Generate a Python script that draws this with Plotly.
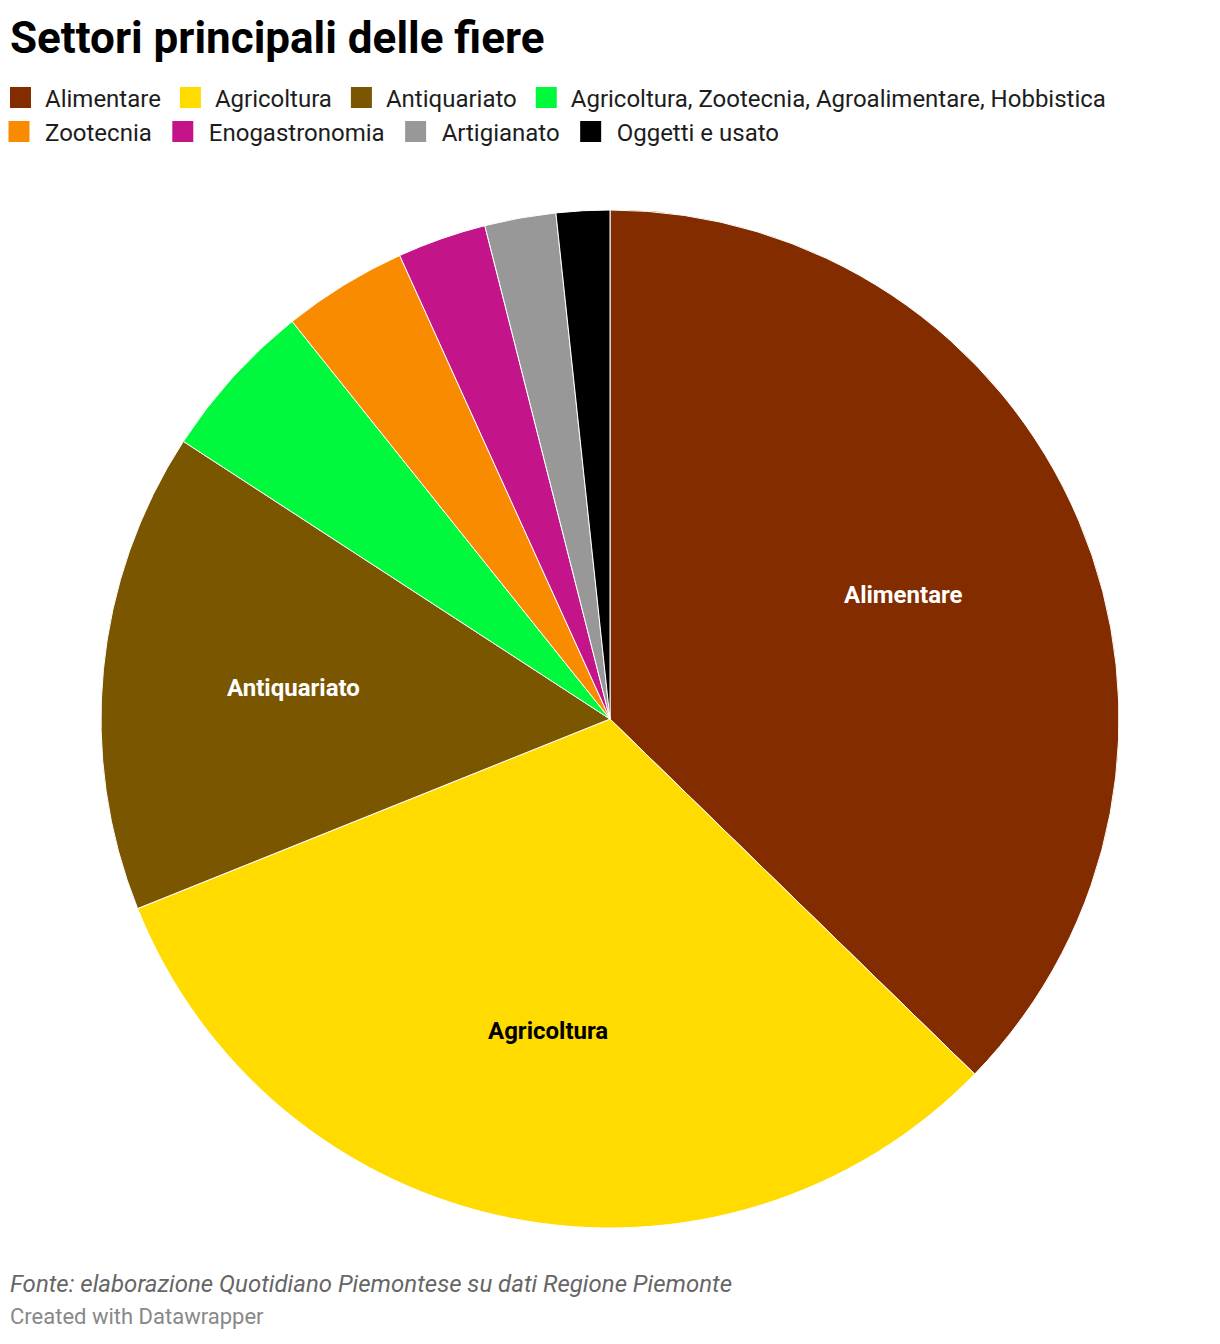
import math
import plotly.graph_objects as go

categories = ["Alimentare", "Agricoltura", "Antiquariato",
              "Agricoltura, Zootecnia, Agroalimentare, Hobbistica",
              "Zootecnia", "Enogastronomia", "Artigianato", "Oggetti e usato"]
values = [66, 56, 27, 9, 7, 5, 4, 3]
colors = ["#832c00", "#ffdb00", "#7b5600", "#00f93c",
          "#f98b00", "#c4148a", "#989898", "#000000"]
slice_labels = ["Alimentare", "Agricoltura", "Antiquariato", "", "", "", "", ""]
label_colors = ["#ffffff", "#000000", "#ffffff", "#ffffff",
                "#ffffff", "#ffffff", "#ffffff", "#ffffff"]
legend_row = [1, 1, 1, 1, 2, 2, 2, 2]

# figure sized to fit the page body (8px default margin)
W, H = 1212, 1336
T = 160  # top margin (title + legend live above the plot area)
cx, cy, r = 602, 711, 509
FONT = "Roboto"


def px(xp):
    return xp / W


def py(yp):
    # figure pixel (from top) -> paper y (plot area spans T..H)
    return (H - yp) / (H - T)


fig = go.Figure()
fig.add_trace(go.Pie(
    labels=categories,
    values=values,
    textinfo="none",
    marker=dict(colors=colors, line=dict(color="#ffffff", width=1)),
    sort=False,
    direction="clockwise",
    rotation=0,
    showlegend=False,
    hoverinfo="label+value+percent",
    domain=dict(x=[px(cx - r), px(cx + r)],
                y=[py(cy + r), py(cy - r)]),
))

# legend entries (two rows, as in the original)
for cat, col, row in zip(categories, colors, legend_row):
    fig.add_trace(go.Scatter(
        x=[None], y=[None], mode="markers", name=cat,
        marker=dict(symbol="square", size=16, color=col,
                    line=dict(color=col, width=5)),
        legend="legend" if row == 1 else "legend2",
        hoverinfo="skip",
    ))

legend_common = dict(orientation="h", xanchor="left", yanchor="middle",
                     font=dict(size=24, family=FONT, color="#1d1d1d"),
                     itemsizing="trace", traceorder="normal",
                     bgcolor="rgba(0,0,0,0)")

# slice labels placed at the slice's mid-angle, computed from the values
total = sum(values)
annotations = []
cum = 0
for v, lab, lc in zip(values, slice_labels, label_colors):
    mid = (cum + v / 2) / total * 2 * math.pi
    cum += v
    if not lab:
        continue
    lx = cx + 0.625 * r * math.sin(mid)
    ly = cy - 0.625 * r * math.cos(mid)
    annotations.append(dict(
        text=f"<b>{lab}</b>", x=px(lx), y=py(ly), xref="paper", yref="paper",
        xanchor="center", yanchor="middle", showarrow=False,
        font=dict(size=24, family=FONT, color=lc)))

annotations += [
    dict(text="<b>Settori principali delle fiere</b>", x=0, y=py(1.5),
         xref="paper", yref="paper", xanchor="left", yanchor="top",
         showarrow=False, font=dict(size=44, family=FONT, color="#000000")),
    dict(text="<i>Fonte: elaborazione Quotidiano Piemontese su dati Regione Piemonte</i>",
         x=0, y=py(1276), xref="paper", yref="paper",
         xanchor="left", yanchor="middle", showarrow=False,
         font=dict(size=24, family=FONT, color="#666666")),
    dict(text="Created with Datawrapper",
         x=0, y=py(1308), xref="paper", yref="paper",
         xanchor="left", yanchor="middle", showarrow=False,
         font=dict(size=22, family=FONT, color="#888888")),
]

fig.update_layout(
    width=W, height=H,
    margin=dict(l=0, r=0, t=T, b=0, autoexpand=False),
    paper_bgcolor="#ffffff",
    plot_bgcolor="#ffffff",
    font=dict(family=FONT, color="#222222"),
    xaxis=dict(visible=False),
    yaxis=dict(visible=False),
    showlegend=True,
    legend=dict(x=px(-12), y=py(90), itemwidth=39, **legend_common),
    legend2=dict(x=px(-15), y=py(124), itemwidth=42, **legend_common),
    annotations=annotations,
)

fig.write_html("out.html")
